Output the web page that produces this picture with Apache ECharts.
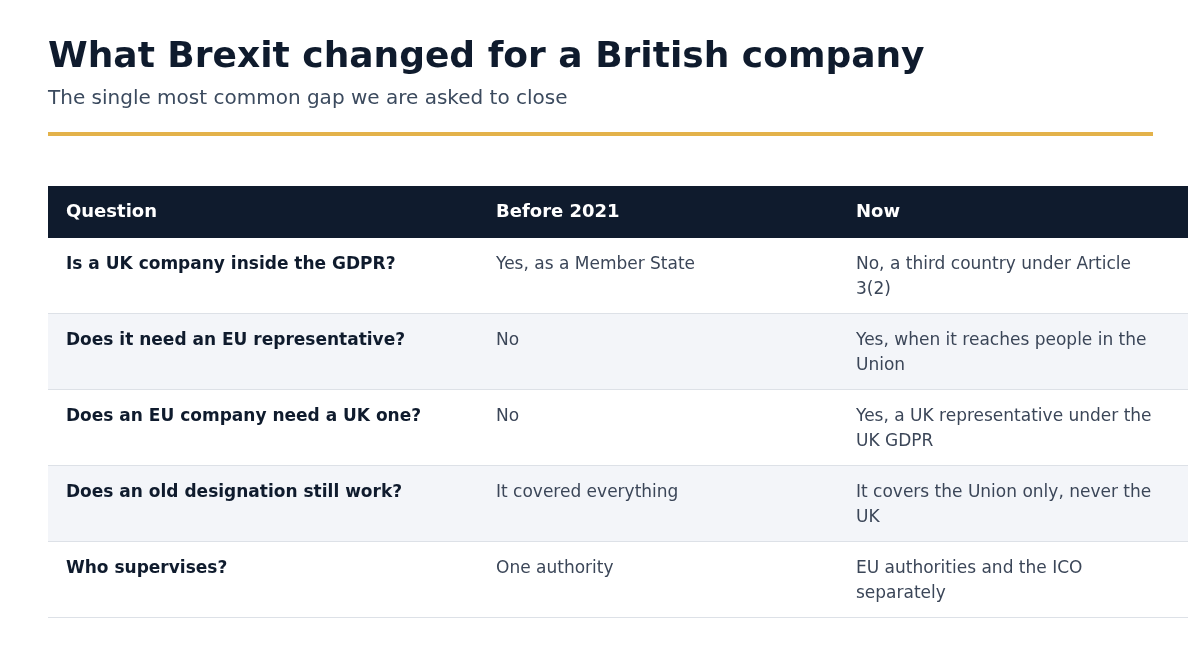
<!DOCTYPE html>
<html>
<head>
<meta charset="utf-8">
<script src="https://cdn.jsdelivr.net/npm/echarts@6/dist/echarts.min.js"></script>
<style>
	html, body { margin: 0; padding: 0; background: #fff; }
	#main { width: 1200px; height: 658px; }
</style>
</head>
<body>
<div id="main"></div>
<script>
// table content
const headers = ['Question', 'Before 2021', 'Now'];
const questions = [
	'Is a UK company inside the GDPR?',
	'Does it need an EU representative?',
	'Does an EU company need a UK one?',
	'Does an old designation still work?',
	'Who supervises?'
];
const before2021 = [
	'Yes, as a Member State',
	'No',
	'No',
	'It covered everything',
	'One authority'
];
const now = [
	'No, a third country under Article\n3(2)',
	'Yes, when it reaches people in the\nUnion',
	'Yes, a UK representative under the\nUK GDPR',
	'It covers the Union only, never the\nUK',
	'EU authorities and the ICO\nseparately'
];

const font = 'DejaVu Sans, sans-serif';
const colX = [66, 496, 856];
const tableLeft = 48, tableRight = 1188;
const headTop = 186, headH = 52, rowH = 76;

const myChart = echarts.init(document.getElementById('main'));

const elements = [
	{
		type: 'text', left: 48, top: 40,
		style: { text: 'What Brexit changed for a British company', font: 'bold 36px ' + font, fill: '#0f1b2d' }
	},
	{
		type: 'text', left: 48, top: 89,
		style: { text: 'The single most common gap we are asked to close', font: '20px ' + font, fill: '#3b4a5e' }
	},
	{
		type: 'rect', shape: { x: 48, y: 132, width: 1105, height: 4 },
		style: { fill: '#e3b24a' }
	},
	{
		type: 'rect', shape: { x: tableLeft, y: headTop, width: tableRight - tableLeft, height: headH },
		style: { fill: '#0f1b2d' }
	}
];

headers.forEach((h, i) => {
	elements.push({
		type: 'text', x: colX[i], y: headTop + headH / 2,
		style: { text: h, font: 'bold 18px ' + font, fill: '#ffffff', verticalAlign: 'middle' }
	});
});

questions.forEach((q, r) => {
	const y = headTop + headH + r * rowH;
	elements.push({
		type: 'rect', shape: { x: tableLeft, y: y, width: tableRight - tableLeft, height: rowH },
		style: { fill: r % 2 === 1 ? '#f3f5f9' : '#ffffff' }
	});
	elements.push({
		type: 'rect', shape: { x: tableLeft, y: y + rowH - 1, width: tableRight - tableLeft, height: 1 },
		style: { fill: '#dde1e7' }
	});
	const cells = [q, before2021[r], now[r]];
	cells.forEach((c, i) => {
		elements.push({
			type: 'text', x: colX[i], y: y + 14,
			style: {
				text: c,
				font: (i === 0 ? 'bold ' : '') + '17px ' + font,
				fill: i === 0 ? '#0f1b2d' : '#3b4658',
				lineHeight: 25
			}
		});
	});
});

myChart.setOption({ animation: false, graphic: { elements: elements } });
</script>
</body>
</html>
